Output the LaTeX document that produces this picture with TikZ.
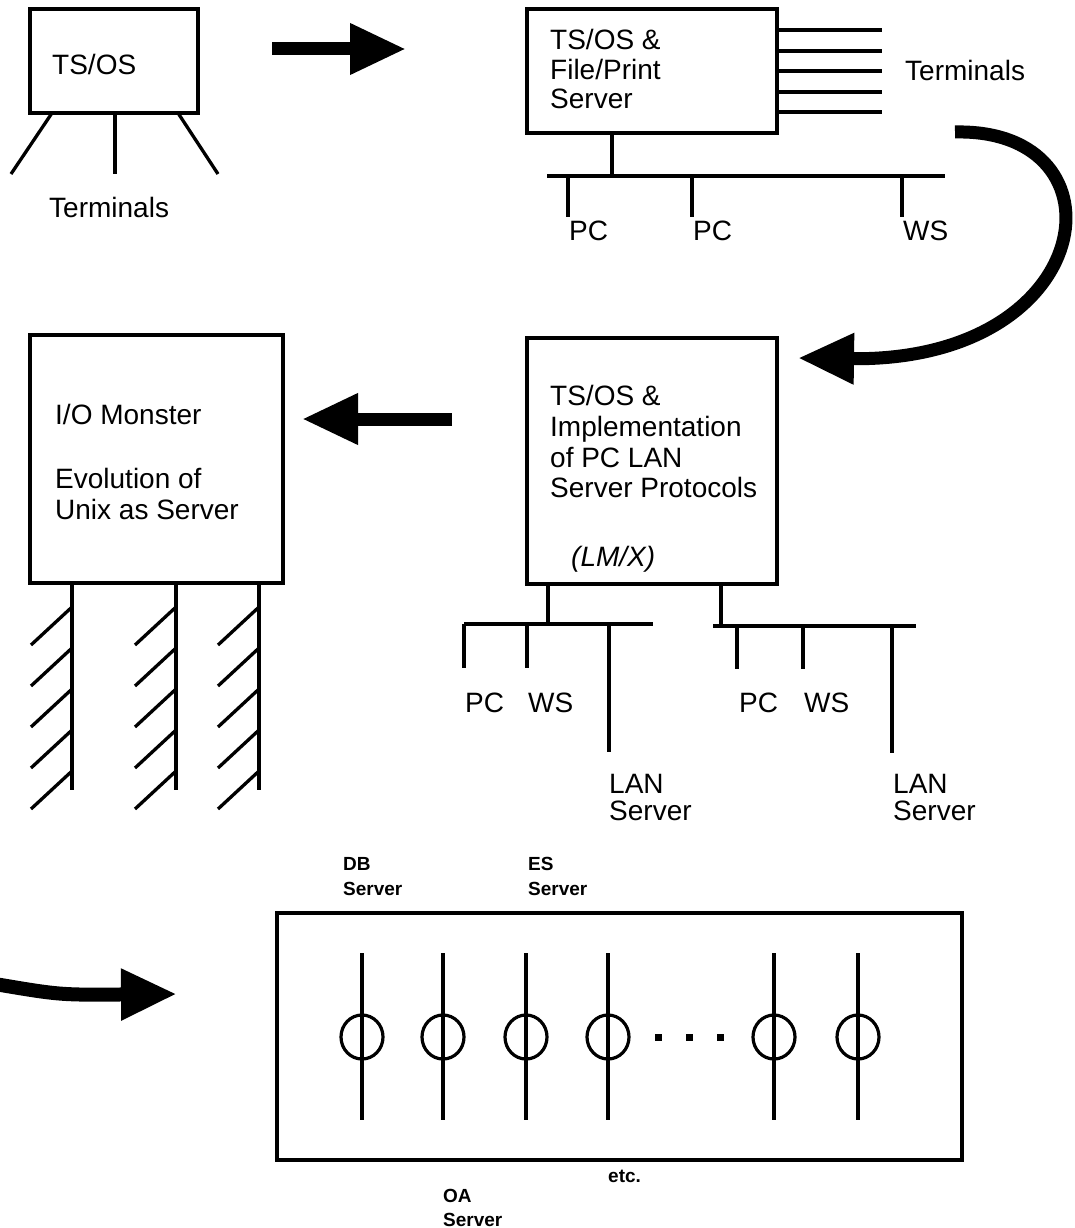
\documentclass[tikz,border=0pt]{standalone}
\usepackage{fontspec}
\setmainfont{Liberation Sans}
\usetikzlibrary{arrows.meta,shapes.geometric}
\begin{document}
\begin{tikzpicture}[x=1pt,y=-1pt,
  box/.style={draw, line width=3.4pt, inner sep=0pt, outer sep=0pt, anchor=north west},
  ln/.style={line width=3.3pt},
  txt/.style={font=\fontsize{28}{31}\selectfont, inner sep=0pt, anchor=base west},
  itxt/.style={font=\fontsize{28}{31}\selectfont\itshape, inner sep=0pt, anchor=base west},
  stxt/.style={font=\fontsize{19}{22}\selectfont\bfseries, inner sep=0pt, anchor=base west},
  bigarrow/.style={line width=13pt, -{Triangle[length=56pt,width=48pt]}},
  sqdot/.style={fill, minimum size=7pt, inner sep=0pt},
  ring/.style={draw, ellipse, line width=3.2pt, minimum width=42pt, minimum height=44pt, inner sep=0pt},
]
\useasboundingbox (0,0) rectangle (1075,1228);

% ---- Stage 1: TS/OS with terminals
\node[box, minimum width=168pt, minimum height=104pt] (b1) at (30,9) {};
\node[txt] (b1t) at (52,75) {TS/OS};
\coordinate (b1l) at (52,113); \coordinate (t1l) at (11,174);
\coordinate (b1m) at (115,113); \coordinate (t1m) at (115,174);
\coordinate (b1r) at (178,113); \coordinate (t1r) at (218,174);
\draw[ln] (b1l) -- (t1l);
\draw[ln] (b1m) -- (t1m);
\draw[ln] (b1r) -- (t1r);
\node[txt] (term1) at (49,217) {Terminals};

% arrow 1
\coordinate (a1s) at (272,49); \coordinate (a1e) at (406,49);
\draw[bigarrow] (a1s) -- (a1e);

% ---- Stage 2: TS/OS & File/Print server
\node[box, minimum width=250pt, minimum height=124pt] (b2) at (527,9) {};
\node[txt] (b2t1) at (550,50) {TS/OS \&};
\node[txt] (b2t2) at (550,80) {File/Print};
\node[txt] (b2t3) at (550,109) {Server};
\foreach \y [count=\i] in {30,51,71,92,112}{
  \coordinate (tl\i a) at (777,\y); \coordinate (tl\i b) at (882,\y);
  \draw[ln] (tl\i a) -- (tl\i b);
}
\node[txt] (term2) at (905,81) {Terminals};
\coordinate (b2c) at (612,133); \coordinate (bus1c) at (612,176);
\draw[ln] (b2c) -- (bus1c);
\coordinate (bus1l) at (547,176); \coordinate (bus1r) at (945,176);
\draw[ln] (bus1l) -- (bus1r);
\foreach \x [count=\i] in {568,692,902}{
  \coordinate (tk\i a) at (\x,176); \coordinate (tk\i b) at (\x,217);
  \draw[ln] (tk\i a) -- (tk\i b);
}
\node[txt] (pc1) at (569,240) {PC};
\node[txt] (pc2) at (693,240) {PC};
\node[txt] (ws1) at (903,240) {WS};

% curved arrow
\coordinate (a2s) at (955,132); \coordinate (a2e) at (798,358);
\draw[bigarrow] (a2s) .. controls (1130,128) and (1100,362) .. (a2e);

% ---- Stage 3: TS/OS & LAN server protocols
\node[box, minimum width=250pt, minimum height=246pt] (b4) at (527,338) {};
\node[txt] (b4t1) at (550,405) {TS/OS \&};
\node[txt] (b4t2) at (550,436) {Implementation};
\node[txt] (b4t3) at (550,467) {of PC LAN};
\node[txt] (b4t4) at (550,497) {Server Protocols};
\node[itxt] (b4t5) at (571,566) {(LM/X)};
% left LAN
\coordinate (c1a) at (548,584); \coordinate (c1b) at (548,624);
\draw[ln] (c1a) -- (c1b);
\coordinate (bl1) at (464,624); \coordinate (bl2) at (653,624);
\draw[ln] (bl1) -- (bl2);
\coordinate (lk1a) at (464,624); \coordinate (lk1b) at (464,668);
\coordinate (lk2a) at (527,624); \coordinate (lk2b) at (527,668);
\coordinate (lk3a) at (609,624); \coordinate (lk3b) at (609,752);
\draw[ln] (lk1a) -- (lk1b);
\draw[ln] (lk2a) -- (lk2b);
\draw[ln] (lk3a) -- (lk3b);
% right LAN
\coordinate (c2a) at (721,584); \coordinate (c2b) at (721,626);
\draw[ln] (c2a) -- (c2b);
\coordinate (br1) at (713,626); \coordinate (br2) at (916,626);
\draw[ln] (br1) -- (br2);
\coordinate (rk1a) at (737,626); \coordinate (rk1b) at (737,669);
\coordinate (rk2a) at (803,626); \coordinate (rk2b) at (803,669);
\coordinate (rk3a) at (892,626); \coordinate (rk3b) at (892,753);
\draw[ln] (rk1a) -- (rk1b);
\draw[ln] (rk2a) -- (rk2b);
\draw[ln] (rk3a) -- (rk3b);
\node[txt] (pc3) at (465,712) {PC};
\node[txt] (ws2) at (528,712) {WS};
\node[txt] (pc4) at (739,712) {PC};
\node[txt] (ws3) at (804,712) {WS};
\node[txt] (lan1) at (609,793) {LAN};
\node[txt] (lan1s) at (609,820) {Server};
\node[txt] (lan2) at (893,793) {LAN};
\node[txt] (lan2s) at (893,820) {Server};

% arrow 3
\coordinate (a3s) at (452,419); \coordinate (a3e) at (302,419);
\draw[bigarrow] (a3s) -- (a3e);

% ---- Stage 4: I/O Monster
\node[box, minimum width=253pt, minimum height=248pt] (b3) at (30,335) {};
\node[txt] (b3t1) at (55,424) {I/O Monster};
\node[txt] (b3t2) at (55,488) {Evolution of};
\node[txt] (b3t3) at (55,519) {Unix as Server};
\foreach \x [count=\i] in {72,176,259}{
  \coordinate (leg\i a) at (\x,583); \coordinate (leg\i b) at (\x,790);
  \draw[ln] (leg\i a) -- (leg\i b);
  \foreach \y in {607,648,689,730,771}{
    \draw[ln] (\x,\y) -- ++(-41,38);
  }
}

% arrow 4
\coordinate (a4s) at (-5,984); \coordinate (a4e) at (177,994);
\draw[bigarrow, line width=14pt] (a4s) .. controls (60,995) .. (a4e);

% ---- Stage 5: servers
\node[box, minimum width=685pt, minimum height=247pt] (b5) at (277,913) {};
\foreach \x [count=\i] in {362,443,526,608,774,858}{
  \coordinate (sv\i a) at (\x,953); \coordinate (sv\i b) at (\x,1120);
  \draw[ln] (sv\i a) -- (sv\i b);
  \node[ring] (ring\i) at (\x,1037) {};
}
\node[sqdot] (d1) at (658,1037) {};
\node[sqdot] (d2) at (689,1037) {};
\node[sqdot] (d3) at (720,1037) {};
\node[stxt] (db) at (343,870) {DB};
\node[stxt] (dbs) at (343,895) {Server};
\node[stxt] (es) at (528,870) {ES};
\node[stxt] (ess) at (528,895) {Server};
\node[stxt] (etc) at (608,1182) {etc.};
\node[stxt] (oa) at (443,1202) {OA};
\node[stxt] (oas) at (443,1226) {Server};
\end{tikzpicture}
\end{document}
